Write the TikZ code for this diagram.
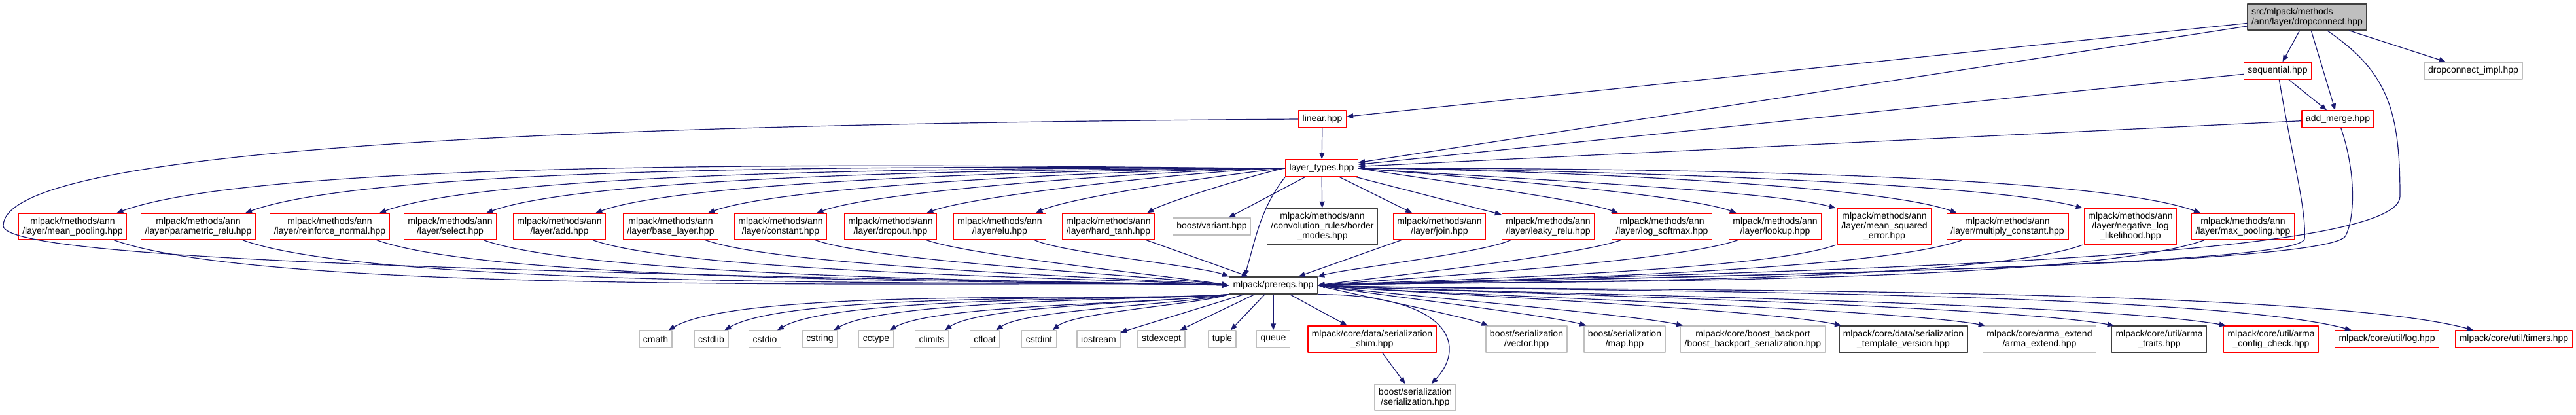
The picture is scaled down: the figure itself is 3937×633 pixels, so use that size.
\documentclass[tikz,border=0pt]{standalone}
\usepackage{fontspec}
\setmainfont{Liberation Sans}
\usetikzlibrary{arrows.meta,calc,positioning}
\definecolor{dxEdge}{HTML}{191970}
\definecolor{dxRed}{HTML}{FF0000}
\definecolor{dxGray}{HTML}{BFBFBF}
\definecolor{dxDark}{HTML}{404040}
\tikzset{
 incl/.style={x=.5pt,y=-.5pt,line join=round},
 file/.style={rectangle,draw,line width=.7pt,fill=white,inner xsep=3pt,inner ysep=3pt,
   minimum height=13pt,align=center,font=\fontsize{7}{7.5}\selectfont,text=black},
 rootfile/.style={file,draw=dxDark,fill=dxGray,align=left},
 cut/.style={file,draw=dxRed},
 plain/.style={file,draw=dxDark},
 sys/.style={file,draw=dxGray},
 dep/.style={draw=dxEdge,line width=.6pt,-{Triangle[length=5pt,width=4pt]}},
 fan/.style={looseness=.4}
}

\begin{document}
\begin{tikzpicture}[incl]
 \useasboundingbox (0,0) rectangle (3937,633);
 % top of the graph
 \node[rootfile] (root) at (3526,26) {src/mlpack/methods\\/ann/layer/dropconnect.hpp};
 \node[cut] (seq) at (3481,108) {sequential.hpp};
 \node[sys] (impl) at (3780,108) {dropconnect\_impl.hpp};
 \node[cut] (merge) at (3573,182) {add\_merge.hpp};
 \node[cut] (linear) at (2021,182) {linear.hpp};
 \node[cut] (lt) at (2020,257) {layer\_types.hpp};
 % layers pulled in by layer_types.hpp
 \node[cut] (meanpool) at (111,346) {mlpack/methods/ann\\/layer/mean\_pooling.hpp};
 \node[cut] (prelu) at (303,346) {mlpack/methods/ann\\/layer/parametric\_relu.hpp};
 \node[cut] (reinf) at (504,346) {mlpack/methods/ann\\/layer/reinforce\_normal.hpp};
 \node[cut] (select) at (688,346) {mlpack/methods/ann\\/layer/select.hpp};
 \node[cut] (add) at (855,346) {mlpack/methods/ann\\/layer/add.hpp};
 \node[cut] (base) at (1025,346) {mlpack/methods/ann\\/layer/base\_layer.hpp};
 \node[cut] (const) at (1193,346) {mlpack/methods/ann\\/layer/constant.hpp};
 \node[cut] (dropout) at (1361,346) {mlpack/methods/ann\\/layer/dropout.hpp};
 \node[cut] (elu) at (1528,346) {mlpack/methods/ann\\/layer/elu.hpp};
 \node[cut] (hardtanh) at (1694,346) {mlpack/methods/ann\\/layer/hard\_tanh.hpp};
 \node[sys] (variant) at (1852,346) {boost/variant.hpp};
 \node[plain] (border) at (2021,346) {mlpack/methods/ann\\/convolution\_rules/border\\\_modes.hpp};
 \node[cut] (join) at (2200,346) {mlpack/methods/ann\\/layer/join.hpp};
 \node[cut] (leaky) at (2366,346) {mlpack/methods/ann\\/layer/leaky\_relu.hpp};
 \node[cut] (logsoft) at (2540,346) {mlpack/methods/ann\\/layer/log\_softmax.hpp};
 \node[cut] (lookup) at (2713,346) {mlpack/methods/ann\\/layer/lookup.hpp};
 \node[cut] (mse) at (2880,346) {mlpack/methods/ann\\/layer/mean\_squared\\\_error.hpp};
 \node[cut] (mulconst) at (3068,346) {mlpack/methods/ann\\/layer/multiply\_constant.hpp};
 \node[cut] (nll) at (3256,346) {mlpack/methods/ann\\/layer/negative\_log\\\_likelihood.hpp};
 \node[cut] (maxpool) at (3428,346) {mlpack/methods/ann\\/layer/max\_pooling.hpp};
 \node[plain] (prereqs) at (1946,436) {mlpack/prereqs.hpp};
 % headers pulled in by prereqs.hpp
 \node[sys] (cmath) at (1002,518) {cmath};
 \node[sys] (cstdlib) at (1087,518) {cstdlib};
 \node[sys] (cstdio) at (1169,518) {cstdio};
 \node[sys] (cstring) at (1253,518) {cstring};
 \node[sys] (cctype) at (1339,518) {cctype};
 \node[sys] (climits) at (1424,518) {climits};
 \node[sys] (cfloat) at (1505,518) {cfloat};
 \node[sys] (cstdint) at (1588,518) {cstdint};
 \node[sys] (iostream) at (1679,518) {iostream};
 \node[sys] (stdexcept) at (1775,518) {stdexcept};
 \node[sys] (tuple) at (1868,518) {tuple};
 \node[sys] (queue) at (1946,518) {queue};
 \node[cut] (shim) at (2097,518) {mlpack/core/data/serialization\\\_shim.hpp};
 \node[sys] (vector) at (2333,518) {boost/serialization\\/vector.hpp};
 \node[sys] (map) at (2483,518) {boost/serialization\\/map.hpp};
 \node[sys] (backport) at (2679,518) {mlpack/core/boost\_backport\\/boost\_backport\_serialization.hpp};
 \node[plain] (tplver) at (2909,518) {mlpack/core/data/serialization\\\_template\_version.hpp};
 \node[sys] (armaext) at (3117,518) {mlpack/core/arma\_extend\\/arma\_extend.hpp};
 \node[plain] (armatraits) at (3300,518) {mlpack/core/util/arma\\\_traits.hpp};
 \node[cut] (armacfg) at (3471,518) {mlpack/core/util/arma\\\_config\_check.hpp};
 \node[cut] (log) at (3648,518) {mlpack/core/util/log.hpp};
 \node[cut] (timers) at (3842,518) {mlpack/core/util/timers.hpp};
 \node[sys] (serial) at (2163,607) {boost/serialization\\/serialization.hpp};
 \coordinate (bendL) at (5,345);
 \coordinate (bendR) at (3668,300);
 \coordinate (bendS) at (3522,365);
 \coordinate (bendM) at (3585,360);

 % edges of the top part
 \draw[dep] (root) -- (linear);
 \draw[dep] (root) -- (lt);
 \draw[dep] (root) -- (seq);
 \draw[dep] (root) -- (merge);
 \draw[dep] (root) -- (impl);
 \draw[dep] (seq) -- (merge);
 \draw[dep] (seq) -- (lt);
 \draw[dep] (merge) -- (lt);
 \draw[dep] (linear) -- (lt);
 \draw[dep] (linear.west) .. controls (800,190) and (5,230) .. (bendL)
   .. controls (5,400) and (900,418) .. (prereqs.west);
 \draw[dep] (root) .. controls (3650,110) and (3668,170) .. (bendR)
   .. controls (3668,400) and (2700,415) .. (prereqs.east);
 \draw[dep] (seq) .. controls (3505,250) and (3525,320) .. (bendS)
   .. controls (3515,405) and (2700,420) .. (prereqs.east);
 \draw[dep] (merge) .. controls (3600,260) and (3600,330) .. (bendM)
   .. controls (3565,405) and (2700,420) .. (prereqs.east);
 \draw[dep] (lt.south west) .. controls (1925,320) and (1918,370) .. ([xshift=12pt]prereqs.north west);

 % layer_types.hpp to the layers
 \draw[dep] (lt.west) to[out=180,in=20,fan] ([xshift=-8pt]meanpool.north east);
 \draw[dep] (lt.west) to[out=180,in=20,fan] ([xshift=-8pt]prelu.north east);
 \draw[dep] (lt.west) to[out=180,in=20,fan] ([xshift=-8pt]reinf.north east);
 \draw[dep] (lt.west) to[out=180,in=20,fan] ([xshift=-8pt]select.north east);
 \draw[dep] (lt.west) to[out=180,in=20,fan] ([xshift=-8pt]add.north east);
 \draw[dep] (lt.west) to[out=180,in=20,fan] ([xshift=-8pt]base.north east);
 \draw[dep] (lt.west) to[out=180,in=20,fan] ([xshift=-8pt]const.north east);
 \draw[dep] (lt.west) to[out=180,in=20,fan] ([xshift=-8pt]dropout.north east);
 \draw[dep] (lt.west) to[out=185,in=25,fan] ([xshift=-8pt]elu.north east);
 \draw[dep] (lt.west) to[out=190,in=30,fan] ([xshift=-6pt]hardtanh.north east);
 \draw[dep] (lt) -- (variant);
 \draw[dep] (lt) -- (border);
 \draw[dep] (lt) -- (join);
 \draw[dep] (lt) -- (leaky);
 \draw[dep] (lt.east) to[out=-10,in=160,fan] ([xshift=5pt]logsoft.north west);
 \draw[dep] (lt.east) to[out=-5,in=160,fan] ([xshift=6pt]lookup.north west);
 \draw[dep] (lt.east) to[out=-5,in=165,fan] ([xshift=-1pt]mse.north west);
 \draw[dep] (lt.east) to[out=0,in=160,fan] ([xshift=8pt]mulconst.north west);
 \draw[dep] (lt.east) to[out=0,in=165,fan] ([xshift=-1pt]nll.north west);
 \draw[dep] (lt.east) to[out=0,in=160,fan] ([xshift=7pt]maxpool.north west);

 % the layers to prereqs.hpp
 \draw[dep] ([xshift=-10pt]meanpool.south east) to[out=-20,in=178,fan] (prereqs.west);
 \draw[dep] ([xshift=-10pt]prelu.south east) to[out=-20,in=178,fan] (prereqs.west);
 \draw[dep] ([xshift=-10pt]reinf.south east) to[out=-20,in=178,fan] (prereqs.west);
 \draw[dep] ([xshift=-10pt]select.south east) to[out=-20,in=178,fan] (prereqs.west);
 \draw[dep] ([xshift=-10pt]add.south east) to[out=-20,in=176,fan] (prereqs.west);
 \draw[dep] ([xshift=-10pt]base.south east) to[out=-20,in=175,fan] (prereqs.west);
 \draw[dep] ([xshift=-9pt]const.south east) to[out=-20,in=172,fan] (prereqs.west);
 \draw[dep] ([xshift=-8pt]dropout.south east) to[out=-20,in=170,fan] (prereqs.west);
 \draw[dep] ([xshift=-9pt]elu.south east) to[out=-25,in=160,fan] (prereqs.north west);
 \draw[dep] (hardtanh) -- (prereqs);
 \draw[dep] (join) -- (prereqs);
 \draw[dep] ([xshift=7pt]leaky.south west) to[out=-155,in=15,fan] (prereqs.north east);
 \draw[dep] ([xshift=7pt]logsoft.south west) to[out=-160,in=8,fan] (prereqs.east);
 \draw[dep] ([xshift=7pt]lookup.south west) to[out=-160,in=5,fan] (prereqs.east);
 \draw[dep] ([xshift=-1pt]mse.south west) to[out=-160,in=3,fan] (prereqs.east);
 \draw[dep] ([xshift=12pt]mulconst.south west) to[out=-160,in=2,fan] (prereqs.east);
 \draw[dep] ([xshift=-1pt]nll.south west) to[out=-160,in=2,fan] (prereqs.east);
 \draw[dep] ([xshift=10pt]maxpool.south west) to[out=-160,in=2,fan] (prereqs.east);

 % prereqs.hpp to the headers
 \draw[dep] (prereqs.south west) to[out=185,in=30,fan] ([xshift=-3pt]cmath.north east);
 \draw[dep] (prereqs.south west) to[out=185,in=30,fan] ([xshift=-3pt]cstdlib.north east);
 \draw[dep] (prereqs.south west) to[out=185,in=30,fan] ([xshift=-3pt]cstdio.north east);
 \draw[dep] (prereqs.south west) to[out=185,in=30,fan] ([xshift=-3pt]cstring.north east);
 \draw[dep] (prereqs.south west) to[out=190,in=30,fan] ([xshift=-3pt]cctype.north east);
 \draw[dep] (prereqs.south west) to[out=190,in=35,fan] ([xshift=-3pt]climits.north east);
 \draw[dep] (prereqs.south west) to[out=195,in=35,fan] ([xshift=-3pt]cfloat.north east);
 \draw[dep] (prereqs.south west) to[out=200,in=40,fan] ([xshift=-3pt]cstdint.north east);
 \draw[dep] (prereqs) -- (iostream);
 \draw[dep] (prereqs) -- (stdexcept);
 \draw[dep] (prereqs) -- (tuple);
 \draw[dep] (prereqs) -- (queue);
 \draw[dep] (prereqs) -- (shim);
 \draw[dep] (prereqs.south east) .. controls (2210,450) and (2245,525) .. ([xshift=-19pt]serial.north east);
 \draw[dep] (shim) -- (serial);
 \draw[dep] (prereqs.east) to[out=-15,in=160,fan] ([xshift=2pt]vector.north west);
 \draw[dep] (prereqs.east) to[out=-10,in=165,fan] ([xshift=2pt]map.north west);
 \draw[dep] (prereqs.east) to[out=-8,in=168,fan] ([xshift=2pt]backport.north west);
 \draw[dep] (prereqs.east) to[out=-5,in=168,fan] ([xshift=2pt]tplver.north west);
 \draw[dep] (prereqs.east) to[out=-5,in=170,fan] ([xshift=2pt]armaext.north west);
 \draw[dep] (prereqs.east) to[out=-3,in=170,fan] ([xshift=2pt]armatraits.north west);
 \draw[dep] (prereqs.east) to[out=-3,in=170,fan] ([xshift=2pt]armacfg.north west);
 \draw[dep] (prereqs.east) to[out=-2,in=165,fan] ([xshift=13pt]log.north west);
 \draw[dep] (prereqs.east) to[out=-2,in=165,fan] ([xshift=14pt]timers.north west);
\end{tikzpicture}
\end{document}
